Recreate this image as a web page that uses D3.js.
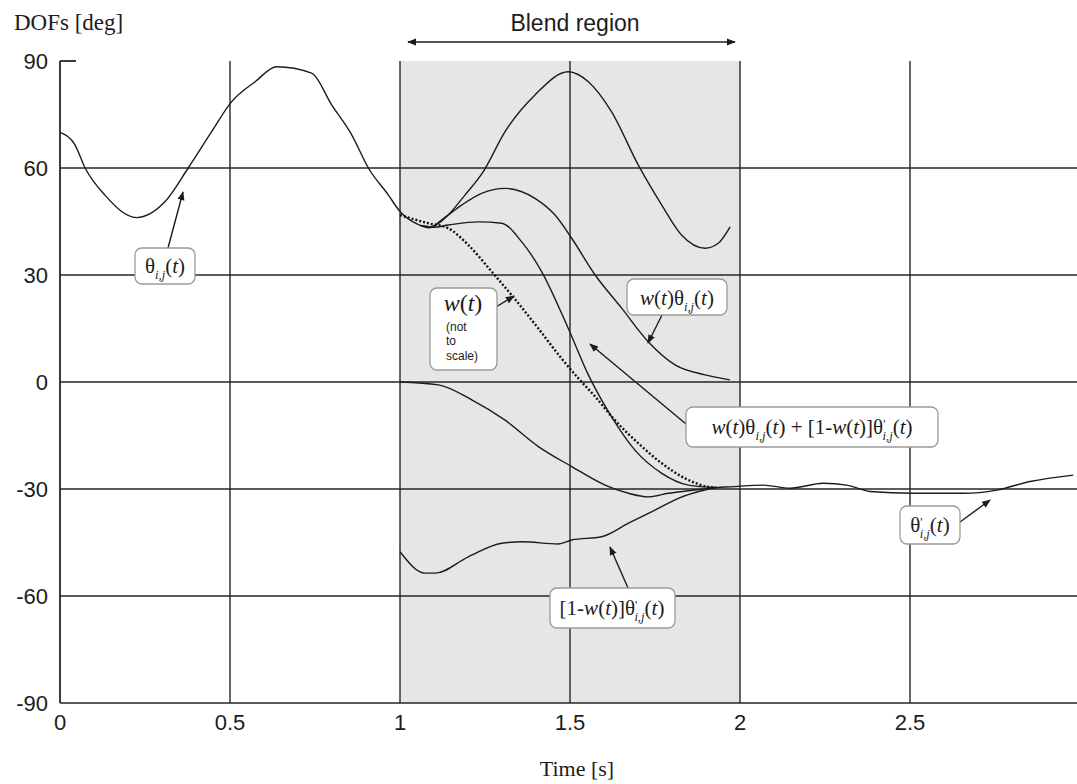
<!DOCTYPE html>
<html>
<head>
<meta charset="utf-8">
<script src="https://cdn.jsdelivr.net/npm/d3@7"></script>
<style>
  html, body { margin: 0; padding: 0; background: #fff; }
  svg { display: block; }
</style>
</head>
<body>
<svg id="chart" width="1077" height="784"></svg>
<script>
// Joint angle trajectories and their blend over the 1–2 s window
const xTicks = [0, 0.5, 1, 1.5, 2, 2.5];
const xTickLabels = ["0", "0.5", "1", "1.5", "2", "2.5"];
const yTicks = [90, 60, 30, 0, -30, -60, -90];
const yTickLabels = ["90", "60", "30", "0", "-30", "-60", "-90"];
const blendStart = 1, blendEnd = 2;

// θ_ij(t): original motion
const thetaT = [0, 0.044, 0.074, 0.132, 0.225, 0.309, 0.377, 0.446, 0.505, 0.574, 0.637, 0.740, 0.799, 0.858, 0.907, 0.966, 1.0, 1.05, 1.085, 1.132, 1.191, 1.245, 1.309, 1.397, 1.495, 1.554, 1.622, 1.701, 1.770, 1.828, 1.897, 1.936, 1.971];
const thetaV = [70, 66.5, 60, 52.4, 46.1, 50.6, 60, 70.2, 78.6, 84.2, 88.4, 86.6, 77.7, 69.3, 60, 52.4, 47.8, 44.3, 43.2, 45.9, 52.4, 59.0, 70.2, 80.5, 87.0, 84.2, 75.8, 60.8, 49.6, 41.2, 37.5, 38.9, 43.5];

// w(t)·θ_ij(t)
const wThetaT = [1.06, 1.09, 1.13, 1.181, 1.240, 1.309, 1.397, 1.456, 1.505, 1.574, 1.652, 1.730, 1.809, 1.897, 1.97];
const wThetaV = [43.9, 43.5, 46.0, 49.6, 52.9, 54.3, 51.5, 46.8, 40.3, 30.0, 20.7, 11.3, 4.8, 2.0, 0.6];

// w(t)·θ_ij(t) + [1 − w(t)]·θ'_ij(t)
const blendT = [1.06, 1.10, 1.142, 1.230, 1.299, 1.358, 1.417, 1.495, 1.554, 1.622, 1.691, 1.770, 1.848, 1.93];
const blendV = [43.9, 43.4, 44.0, 44.9, 44.5, 39.3, 30.9, 15.0, 2.0, -9.7, -19.1, -25.6, -28.9, -29.6];

// w(t), drawn dotted (not to scale)
const weightT = [1.0, 1.083, 1.142, 1.201, 1.270, 1.328, 1.407, 1.475, 1.525, 1.574, 1.632, 1.701, 1.770, 1.838, 1.907, 1.93];
const weightV = [46.8, 44.5, 43.1, 38.4, 30.9, 24.4, 15.0, 6.6, 1.0, -4.1, -10.7, -17.2, -22.8, -27.0, -29.4, -29.6];

// [1 − w(t)]·θ'_ij(t)
const oneMinusWT = [1.0, 1.113, 1.211, 1.309, 1.407, 1.505, 1.603, 1.672, 1.730, 1.789, 1.848, 1.93];
const oneMinusWV = [0, -0.8, -5.0, -10.7, -18.1, -23.7, -28.9, -31.2, -32.2, -31.2, -30.5, -29.6];

// θ'_ij(t): target motion
const thetaPT = [1.0, 1.074, 1.103, 1.201, 1.299, 1.358, 1.466, 1.505, 1.593, 1.672, 1.750, 1.819, 1.887, 1.93, 1.970, 2.069, 2.147, 2.245, 2.314, 2.382, 2.510, 2.657, 2.755, 2.853, 2.98];
const thetaPV = [-47.6, -53.6, -53.6, -49.0, -45.2, -44.8, -45.4, -44.3, -43.4, -39.6, -35.9, -32.6, -30.5, -29.6, -29.4, -28.9, -29.8, -28.4, -28.9, -30.7, -31.2, -31.2, -30.3, -27.9, -26.1];

const svg = d3.select("#chart");
const x = d3.scaleLinear().domain([0, 3]).range([60, 1080]);
const y = d3.scaleLinear().domain([-90, 90]).range([703, 61]);

const serif = "'Liberation Serif', 'Times New Roman', serif";
const sans = "'Liberation Sans', Arial, sans-serif";
const ink = "#1c1c1c";

svg.append("defs").append("marker")
  .attr("id", "head").attr("viewBox", "0 0 10 10")
  .attr("refX", 9).attr("refY", 5)
  .attr("markerWidth", 9).attr("markerHeight", 9)
  .attr("markerUnits", "userSpaceOnUse")
  .attr("orient", "auto-start-reverse")
  .append("path").attr("d", "M0,1 L10,5 L0,9 Z").attr("fill", ink);

// shaded blend window
svg.append("rect")
  .attr("x", x(blendStart)).attr("y", y(90))
  .attr("width", x(blendEnd) - x(blendStart)).attr("height", y(-90) - y(90))
  .attr("fill", "#e6e6e6");

// grid
const grid = svg.append("g").attr("stroke", "#262626").attr("stroke-width", 1.4);
grid.selectAll("line.h").data(yTicks.filter(v => v !== 90))
  .join("line")
  .attr("x1", x(0)).attr("x2", x(3))
  .attr("y1", d => y(d)).attr("y2", d => y(d));
grid.selectAll("line.v").data(xTicks.filter(v => v !== 0))
  .join("line").attr("class", "v")
  .attr("x1", d => x(d)).attr("x2", d => x(d))
  .attr("y1", y(90)).attr("y2", y(-90));
grid.append("line").attr("x1", x(0)).attr("x2", x(0)).attr("y1", y(90)).attr("y2", y(-90)).attr("stroke-width", 1.8);
grid.append("line").attr("x1", x(0)).attr("x2", x(0) + 16).attr("y1", y(90)).attr("y2", y(90)).attr("stroke-width", 1.8);

// tick labels
svg.append("g").selectAll("text").data(yTicks)
  .join("text")
  .attr("x", 48).attr("y", d => y(d) + 8)
  .attr("text-anchor", "end")
  .attr("font-family", sans).attr("font-size", 22).attr("fill", ink)
  .text((d, i) => yTickLabels[i]);
svg.append("g").selectAll("text").data(xTicks)
  .join("text")
  .attr("x", d => x(d)).attr("y", 730)
  .attr("text-anchor", "middle")
  .attr("font-family", sans).attr("font-size", 22).attr("fill", ink)
  .text((d, i) => xTickLabels[i]);

// axis titles
svg.append("text").attr("x", 14).attr("y", 30)
  .attr("font-family", serif).attr("font-size", 23).attr("fill", ink)
  .text("DOFs [deg]");
svg.append("text").attr("x", 577).attr("y", 776).attr("text-anchor", "middle")
  .attr("font-family", serif).attr("font-size", 22).attr("fill", ink)
  .text("Time [s]");

// blend window header
svg.append("text").attr("x", 575).attr("y", 31).attr("text-anchor", "middle")
  .attr("font-family", sans).attr("font-size", 23).attr("fill", ink)
  .text("Blend region");
svg.append("line")
  .attr("x1", x(blendStart) + 8).attr("x2", x(blendEnd) - 5)
  .attr("y1", 42).attr("y2", 42)
  .attr("stroke", ink).attr("stroke-width", 1.6)
  .attr("marker-start", "url(#head)").attr("marker-end", "url(#head)");

// curves
const line = d3.line().x(d => x(d[0])).y(d => y(d[1])).curve(d3.curveMonotoneX);
const zip = (ts, vs) => ts.map((t, i) => [t, vs[i]]);
const curves = svg.append("g").attr("fill", "none").attr("stroke", ink).attr("stroke-width", 1.4);
curves.append("path").attr("d", line(zip(thetaT, thetaV)));
curves.append("path").attr("d", line(zip(wThetaT, wThetaV)));
curves.append("path").attr("d", line(zip(blendT, blendV)));
curves.append("path").attr("d", line(zip(oneMinusWT, oneMinusWV)));
curves.append("path").attr("d", line(zip(thetaPT, thetaPV)));
curves.append("path").attr("d", line(zip(weightT, weightV)))
  .attr("stroke-width", 2.4).attr("stroke-dasharray", "2,2").attr("stroke", "#111");

// callouts
function richText(g, cx, by, size, parts) {
  const t = g.append("text").attr("x", cx).attr("y", by)
    .attr("text-anchor", "middle").attr("font-family", serif)
    .attr("font-size", size).attr("fill", ink);
  let cur = 0;
  parts.forEach(([s, kind]) => {
    let off = 0, fs = size, style = "normal", dx = 0;
    if (kind === "i") style = "italic";
    if (kind === "sub") { off = size * 0.28; fs = size * 0.6; style = "italic"; }
    if (kind === "subp") { off = size * 0.28; fs = size * 0.6; style = "italic"; dx = -size * 0.14; }
    if (kind === "sup") { off = -size * 0.3; fs = size * 0.6; }
    t.append("tspan").attr("dy", off - cur).attr("dx", dx)
      .attr("font-size", fs).attr("font-style", style).text(s);
    cur = off;
  });
}
function box(x0, y0, w, h) {
  svg.append("rect").attr("x", x0).attr("y", y0).attr("width", w).attr("height", h)
    .attr("rx", 7).attr("fill", "#fff").attr("stroke", "#9a9a9a").attr("stroke-width", 1.3);
}
function arrow(x1, y1, x2, y2) {
  svg.append("line").attr("x1", x1).attr("y1", y1).attr("x2", x2).attr("y2", y2)
    .attr("stroke", ink).attr("stroke-width", 1.4).attr("marker-end", "url(#head)");
}

const thetaParts = [["θ", "r"], ["i,j", "sub"], ["(", "r"], ["t", "i"], [")", "r"]];
const thetaPParts = [["θ", "r"], ["'", "sup"], ["i,j", "subp"], ["(", "r"], ["t", "i"], [")", "r"]];
const wParts = [["w", "i"], ["(", "r"], ["t", "i"], [")", "r"]];

arrow(168, 248, 183, 192);
box(135, 248, 60, 36);
richText(svg, 165, 273, 21, thetaParts);

arrow(496, 307, 514, 296);
box(430, 288, 67, 82);
richText(svg, 463, 311, 24, wParts);
svg.append("g").attr("font-family", sans).attr("font-size", 12).attr("fill", ink)
  .selectAll("text").data([["(not", 331], ["to", 345], ["scale)", 360]])
  .join("text").attr("x", 446).attr("y", d => d[1]).text(d => d[0]);

arrow(662, 315, 648, 343);
box(627, 279, 100, 36);
richText(svg, 677, 305, 21, wParts.concat(thetaParts));

arrow(686, 424, 590, 344);
box(686, 407, 252, 40);
richText(svg, 812, 434, 21, wParts.concat(thetaParts, [[" + [1-", "r"]], wParts, [["]", "r"]], thetaPParts));

arrow(628, 588, 610, 547);
box(550, 588, 125, 40);
richText(svg, 612, 615, 21, [["[1-", "r"]].concat(wParts, [["]", "r"]], thetaPParts));

arrow(960, 522, 990, 500);
box(900, 506, 60, 38);
richText(svg, 930, 532, 21, thetaPParts);
</script>
</body>
</html>
